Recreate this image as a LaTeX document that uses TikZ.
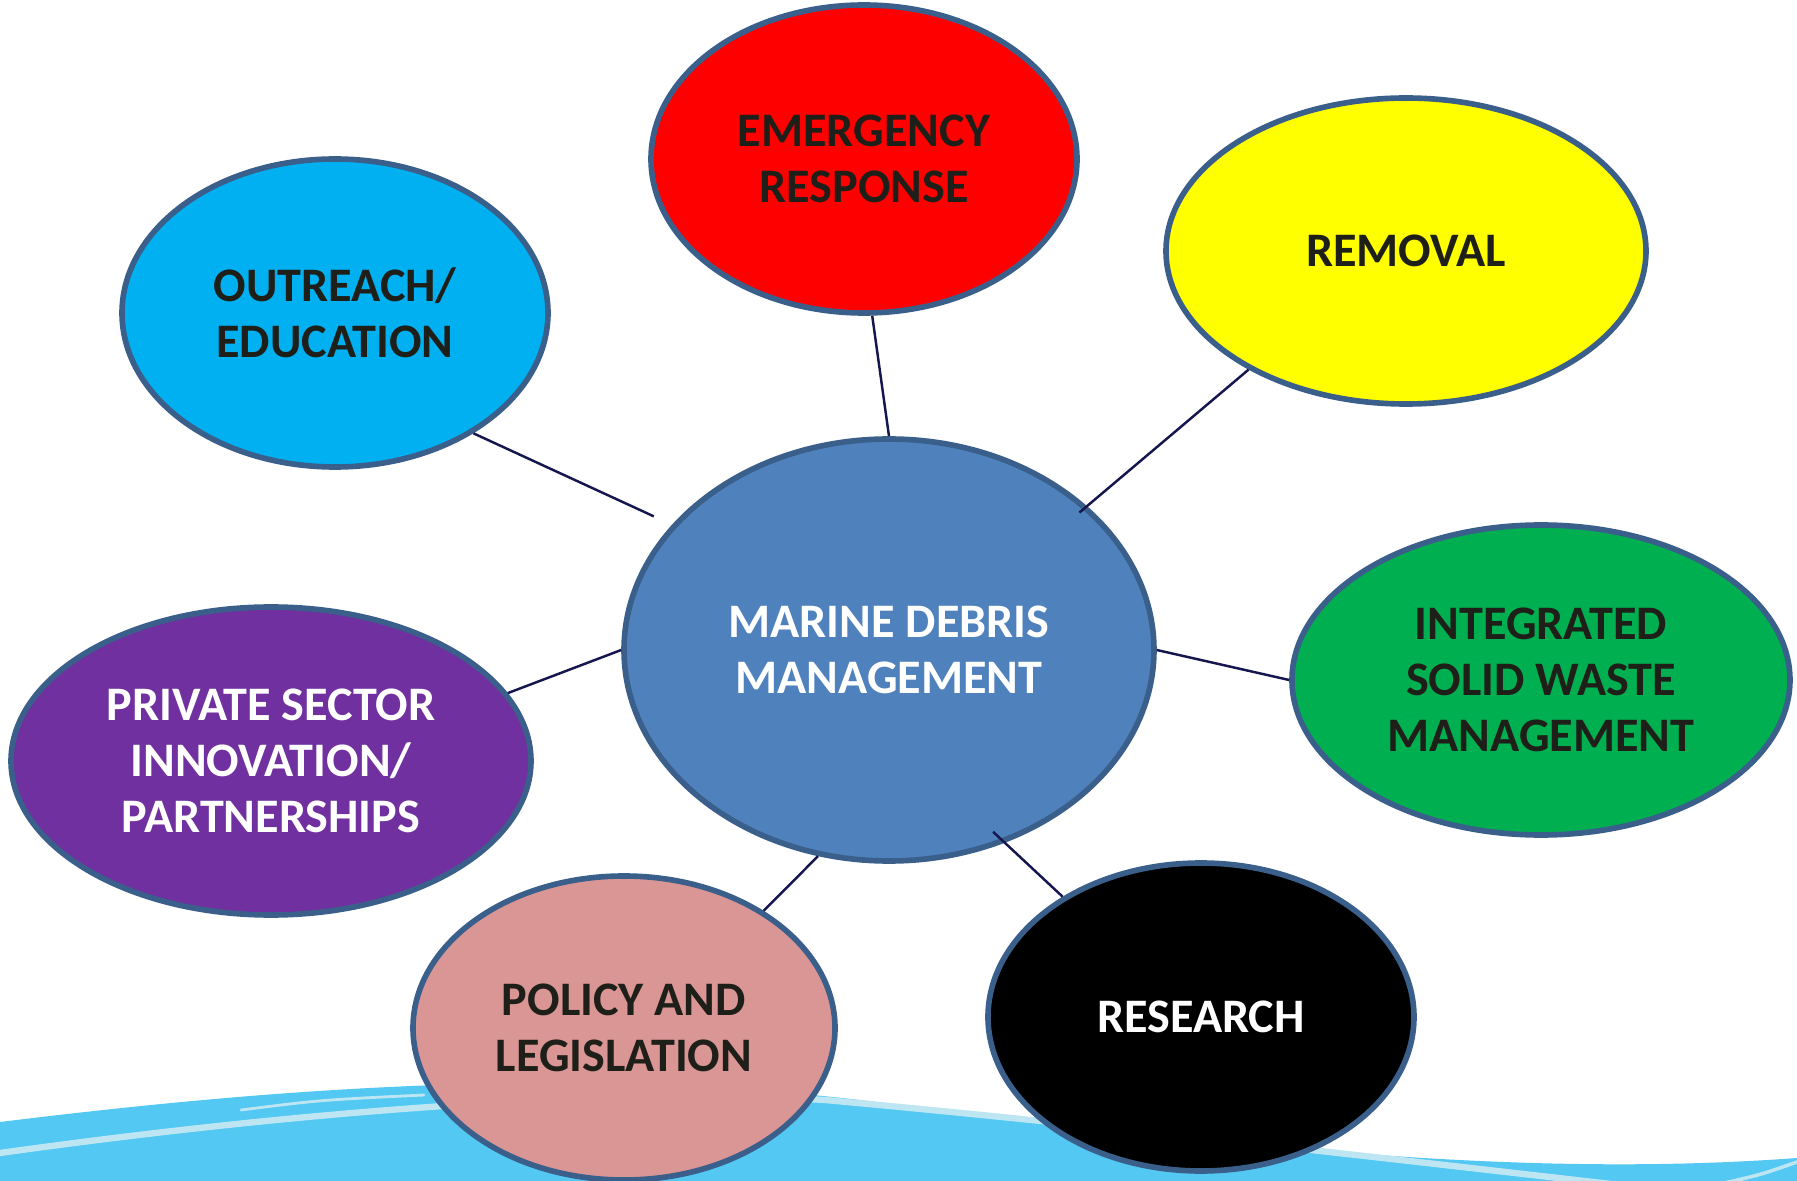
\documentclass[tikz,border=0pt]{standalone}
\usepackage{fontspec}
\setmainfont{Carlito}
\usepackage{xcolor}
\usetikzlibrary{shapes.geometric, positioning}
\definecolor{rimblue}{HTML}{3A5F8B}
\definecolor{linknavy}{HTML}{16164F}
\definecolor{txtdark}{HTML}{1F1F1A}
\definecolor{seablue}{HTML}{53C8F2}
\definecolor{seafoam}{HTML}{BDE6F2}
\definecolor{skyfill}{HTML}{00B0F0}
\definecolor{redfill}{HTML}{FF0000}
\definecolor{yelfill}{HTML}{FFFF00}
\definecolor{grnfill}{HTML}{00B050}
\definecolor{purfill}{HTML}{7030A0}
\definecolor{pnkfill}{HTML}{D99694}
\definecolor{hubfill}{HTML}{4F81BD}
\tikzset{
  bubble/.style  = {ellipse, draw=rimblue, line width=1.6pt, inner sep=0pt,
                    align=center, font=\fontsize{13.7}{15.9}\selectfont\bfseries},
  bubbleB/.style = {bubble, fill=skyfill, text=txtdark},
  bubbleR/.style = {bubble, fill=redfill, text=txtdark},
  bubbleY/.style = {bubble, fill=yelfill, text=txtdark},
  bubbleG/.style = {bubble, fill=grnfill, text=txtdark},
  bubbleP/.style = {bubble, fill=purfill, text=white},
  bubblePk/.style= {bubble, fill=pnkfill, text=txtdark},
  bubbleK/.style = {bubble, fill=black, text=white},
  bubbleC/.style = {bubble, fill=hubfill, text=white},
  link/.style    = {draw=linknavy, line width=0.7pt},
  foam/.style    = {draw=seafoam, line cap=round},
}

\begin{document}
\begin{tikzpicture}
    \useasboundingbox (0,0) rectangle (17.97,-11.81);

    % sea wave along the bottom
    \fill[seablue] (0,-11.81) -- (0,-11.22)
      .. controls (3,-10.85) and (6,-10.65) .. (9,-11.05)
      .. controls (12,-11.4) and (15,-11.8) .. (17.97,-11.58)
      -- (17.97,-11.81) -- cycle;
    \draw[foam, line width=1.8pt] (0,-11.53)
      .. controls (2,-11.25) and (5.5,-10.85) .. (8.25,-11.0)
      .. controls (11,-11.25) and (14,-11.6) .. (16.2,-11.85);
    \draw[foam, line width=0.8pt] (2.41,-11.10) .. controls (3.2,-11.0) .. (4.24,-10.95);
    \draw[foam, line width=1pt] (17.15,-11.85) .. controls (17.6,-11.75) .. (17.97,-11.62);

    \node[bubbleC, minimum width=5.30cm, minimum height=4.22cm] (mdm) at (8.89,-6.50)
      {MARINE DEBRIS\\MANAGEMENT};

    \node[bubbleR,  minimum width=4.26cm, minimum height=3.08cm] (emerg) at (8.64,-1.59)
      {EMERGENCY\\RESPONSE};
    \node[bubbleY,  minimum width=4.80cm, minimum height=3.06cm] (remov) at (14.06,-2.51)
      {REMOVAL};
    \node[bubbleB,  minimum width=4.26cm, minimum height=3.08cm] (outre) at (3.35,-3.13)
      {OUTREACH/\\EDUCATION};
    \node[bubbleG,  minimum width=4.98cm, minimum height=3.10cm] (waste) at (15.41,-6.80)
      {INTEGRATED\\SOLID WASTE\\MANAGEMENT};
    \node[bubbleP,  minimum width=5.20cm, minimum height=3.08cm] (priv) at (2.71,-7.61)
      {PRIVATE SECTOR\\INNOVATION/\\PARTNERSHIPS};
    \node[bubblePk, minimum width=4.22cm, minimum height=3.04cm] (policy) at (6.24,-10.28)
      {POLICY AND\\LEGISLATION};
    \node[bubbleK,  minimum width=4.26cm, minimum height=3.08cm] (resea) at (12.01,-10.17)
      {RESEARCH};

    \draw[link, shorten >=2mm] (outre.-41) -- (mdm.150);
    \draw[link] (emerg.-87.4) -- (mdm.90);
    \draw[link, shorten >=-1mm] (remov.217.3) -- (mdm.36.7);
    \draw[link] (waste.180) -- (mdm.0);
    \draw[link] (priv.16) -- (mdm.180);
    \draw[link] (policy.40) -- (mdm.-109.7);
    \draw[link, shorten >=-1.6mm] (resea.139) -- (mdm.-59.1);

\end{tikzpicture}
\end{document}
